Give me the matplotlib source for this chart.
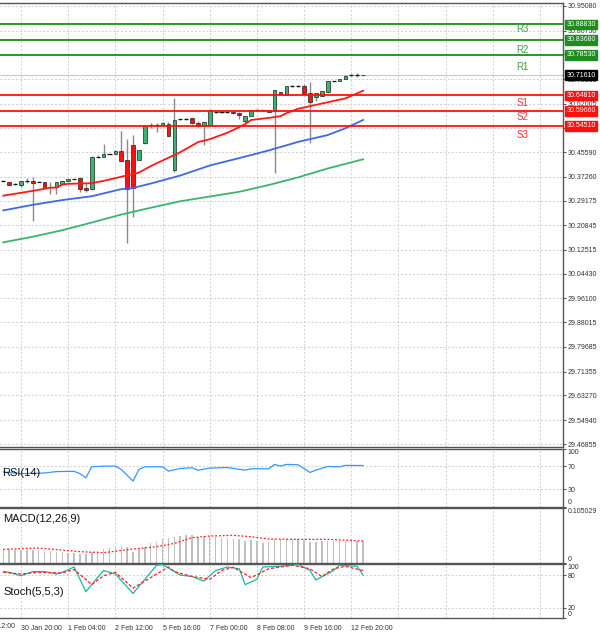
import matplotlib
matplotlib.use('Agg')
import matplotlib.pyplot as plt

plt.rcParams['font.family'] = ['Liberation Sans', 'DejaVu Sans']

# 4H candles
opens = [30.360, 30.355, 30.348, 30.344, 30.359, 30.360, 30.355, 30.355, 30.337, 30.339,
         30.349, 30.358, 30.366, 30.370, 30.334, 30.330, 30.441, 30.441, 30.450, 30.450,
         30.461, 30.430, 30.480, 30.430, 30.486, 30.548, 30.548, 30.548, 30.551, 30.396,
         30.567, 30.568, 30.571, 30.556, 30.546, 30.548, 30.593, 30.593, 30.593, 30.593,
         30.590, 30.563, 30.579, 30.599, 30.599, 30.599, 30.597, 30.659, 30.651, 30.680,
         30.680, 30.680, 30.655, 30.644, 30.646, 30.659, 30.697, 30.698, 30.704, 30.716,
         30.718, 30.718]
highs = [30.362, 30.356, 30.351, 30.358, 30.368, 30.371, 30.357, 30.356, 30.356, 30.356,
         30.358, 30.367, 30.367, 30.371, 30.351, 30.442, 30.446, 30.484, 30.451, 30.462,
         30.529, 30.500, 30.514, 30.465, 30.547, 30.556, 30.556, 30.558, 30.557, 30.641,
         30.568, 30.572, 30.572, 30.562, 30.558, 30.601, 30.596, 30.596, 30.596, 30.594,
         30.593, 30.580, 30.600, 30.602, 30.600, 30.600, 30.667, 30.660, 30.681, 30.683,
         30.683, 30.687, 30.692, 30.658, 30.664, 30.698, 30.698, 30.705, 30.716, 30.719,
         30.723, 30.718]
lows = [30.358, 30.345, 30.345, 30.339, 30.351, 30.223, 30.354, 30.335, 30.315, 30.315,
        30.348, 30.357, 30.365, 30.322, 30.322, 30.329, 30.436, 30.440, 30.449, 30.449,
        30.426, 30.149, 30.237, 30.428, 30.485, 30.537, 30.525, 30.547, 30.510, 30.390,
        30.566, 30.564, 30.553, 30.540, 30.480, 30.547, 30.590, 30.590, 30.590, 30.586,
        30.568, 30.551, 30.578, 30.596, 30.598, 30.592, 30.387, 30.651, 30.650, 30.677,
        30.677, 30.652, 30.488, 30.630, 30.645, 30.658, 30.696, 30.697, 30.703, 30.713,
        30.712, 30.715]
closes = [30.360, 30.346, 30.348, 30.357, 30.360, 30.353, 30.355, 30.336, 30.339, 30.355,
          30.357, 30.366, 30.366, 30.333, 30.328, 30.441, 30.441, 30.449, 30.450, 30.461,
          30.427, 30.332, 30.334, 30.463, 30.546, 30.548, 30.548, 30.556, 30.511, 30.565,
          30.567, 30.568, 30.554, 30.545, 30.557, 30.600, 30.593, 30.593, 30.593, 30.588,
          30.582, 30.579, 30.599, 30.599, 30.599, 30.593, 30.666, 30.652, 30.680, 30.680,
          30.680, 30.653, 30.627, 30.657, 30.663, 30.697, 30.697, 30.704, 30.715, 30.716,
          30.718, 30.716]

# moving averages (sampled at bar index)
ma_fast_idx = [0, 5, 8, 9, 10, 11, 15, 17, 20, 22, 23, 25, 30, 33, 35, 38, 40, 41, 42, 45, 47, 48, 50, 55, 58, 61]
ma_fast = [30.309, 30.325, 30.336, 30.336, 30.346, 30.349, 30.351, 30.359, 30.373, 30.382, 30.387, 30.409, 30.456,
           30.490, 30.500, 30.522, 30.541, 30.551, 30.565, 30.572, 30.578, 30.588, 30.603, 30.625, 30.638, 30.664]
ma_mid_idx = [0, 5, 10, 15, 20, 22, 25, 30, 35, 40, 45, 50, 55, 58, 61]
ma_mid = [30.259, 30.278, 30.294, 30.307, 30.331, 30.335, 30.350, 30.377, 30.411, 30.436, 30.462, 30.491, 30.514,
          30.537, 30.565]
ma_slow_idx = [0, 5, 10, 15, 20, 25, 30, 35, 40, 45, 50, 55, 61]
ma_slow = [30.151, 30.170, 30.192, 30.218, 30.245, 30.268, 30.290, 30.306, 30.322, 30.345, 30.371, 30.401, 30.432]

# pivot levels
level_names = ['R3', 'R2', 'R1', 'S1', 'S2', 'S3']
level_values = [30.88830, 30.83680, 30.78530, 30.64810, 30.59660, 30.54510]
current_price = 30.71610

price_ticks = [30.95080, 30.86750, 30.78665, 30.70335, 30.62005, 30.53920, 30.45590, 30.37260, 30.29175,
               30.20845, 30.12515, 30.04430, 29.96100, 29.88015, 29.79685, 29.71355, 29.63270, 29.54940,
               29.46855]

# indicators
rsi_idx = [0, 1, 3, 7, 9, 12, 13, 14, 15, 17, 19, 20, 22, 23, 24, 27, 28, 30, 32, 33, 35, 38, 41, 42, 45,
           46, 47, 48, 50, 52, 53, 55, 57, 58, 61]
rsi_val = [60, 59, 57, 58, 60.5, 61, 57, 49.7, 68.8, 70, 70, 64.3, 44, 64.3, 68.8, 68.8, 61.3, 65.9, 67.1, 63,
           66.5, 67.6, 63, 65.4, 65.4, 72.9, 70, 72.9, 72.3, 59, 63, 69.4, 68.8, 71.2, 71]

macd_hist = [0.0270, 0.0258, 0.0251, 0.0245, 0.0245, 0.0238, 0.0238, 0.0232, 0.0219, 0.0206,
             0.0200, 0.0193, 0.0193, 0.0167, 0.0161, 0.0206, 0.0225, 0.0258, 0.0283, 0.0309,
             0.0322, 0.0296, 0.0200, 0.0258, 0.0309, 0.0374, 0.0406, 0.0451, 0.0477, 0.0502,
             0.0522, 0.0535, 0.0528, 0.0502, 0.0509, 0.0509, 0.0496, 0.0483, 0.0470, 0.0464,
             0.0451, 0.0425, 0.0432, 0.0419, 0.0387, 0.0400, 0.0458, 0.0464, 0.0464, 0.0458,
             0.0451, 0.0432, 0.0400, 0.0406, 0.0412, 0.0419, 0.0425, 0.0425, 0.0419, 0.0419,
             0.0412, 0.0412]
macd_sig_idx = [0, 6, 13, 17, 22, 26, 29, 32, 35, 39, 42, 45, 49, 55, 61]
macd_sig = [0.0258, 0.0283, 0.0213, 0.0193, 0.0264, 0.0309, 0.0374, 0.0483, 0.0515, 0.0528, 0.0502, 0.0458,
            0.0451, 0.0451, 0.0419]
macd_max = 0.105029

stoch_k_idx = [0, 1, 3, 5, 7, 9, 10, 12, 14, 17, 19, 22, 24, 26, 27, 30, 32, 34, 36, 38, 40, 41, 43, 44, 47,
               50, 52, 53, 56, 57, 60, 61]
stoch_k = [86.5, 85.2, 78.7, 86.5, 86.5, 82, 85.2, 95, 49.3, 88.5, 82, 46, 72.2, 98.3, 99.6, 80, 77.4, 68.9,
           88.5, 95, 91.7, 62.4, 72.2, 95, 96.3, 99.6, 88.5, 70.9, 88.5, 98.3, 96.3, 80]
stoch_d_idx = [0, 3, 6, 10, 12, 15, 17, 19, 22, 24, 28, 29, 32, 35, 37, 39, 42, 45, 49, 52, 54, 56, 58, 61]
stoch_d = [85.2, 82, 85.2, 83.9, 90.4, 62.4, 78.7, 85.2, 55.9, 68.9, 95, 86.5, 77.4, 72.2, 88.5, 94.4, 75.4,
           91.7, 98.3, 91.7, 77.4, 91.7, 96.3, 88.5]

time_labels = ['30 Jan 20:00', '1 Feb 04:00', '2 Feb 12:00', '5 Feb 16:00', '7 Feb 00:00',
               '8 Feb 08:00', '9 Feb 16:00', '12 Feb 20:00']
time_label_idx = [3, 11, 19, 27, 35, 43, 51, 59]

# layout (pixels)
W, H = 600, 633
fig = plt.figure(figsize=(6, 6.33), dpi=100)


def panel(top, bottom):
    return [0, (H - bottom) / H, 563 / W, (bottom - top) / H]


ax = fig.add_axes(panel(3, 447))
ax_rsi = fig.add_axes(panel(448.8, 506.5), sharex=ax)
ax_macd = fig.add_axes(panel(508.3, 562.7), sharex=ax)
ax_st = fig.add_axes(panel(564.3, 618.3), sharex=ax)
axes = [ax, ax_rsi, ax_macd, ax_st]

grid_kw = dict(color='#cfcfcf', lw=0.7, ls=(0, (2, 2)), zorder=0)
vgrid = list(range(3, 95, 8))
for a in axes:
    a.set_facecolor('white')
    for s in ['left']:
        a.spines[s].set_visible(False)
    for s in ['right', 'top', 'bottom']:
        a.spines[s].set_color('#555555')
        a.spines[s].set_linewidth(1.0)
    a.yaxis.tick_right()
    a.tick_params(axis='y', labelsize=5, colors='#333333', length=2, pad=1.5, width=0.6)
    a.tick_params(axis='x', length=0, labelbottom=False)
    for g in vgrid:
        a.axvline(g, **grid_kw)
ax.set_xlim(-0.56, 94.9)

# main price panel
ax.set_ylim(29.4584, 30.9609)
ax.set_yticks(price_ticks)
ax.set_yticklabels(['%.5f' % p for p in price_ticks])
for p in price_ticks:
    ax.axhline(p, **grid_kw)

for i in range(len(opens)):
    o, h, l, c = opens[i], highs[i], lows[i], closes[i]
    ax.vlines(i, l, h, color='#8a8a8a', lw=1.0, zorder=2)
    if abs(c - o) < 0.0015:
        ax.hlines(o, i - 0.35, i + 0.35, color='#111111', lw=0.9, zorder=3)
    else:
        col = '#3cb371' if c > o else '#ff1010'
        ax.bar(i, abs(c - o), bottom=min(o, c), width=0.62, color=col,
               edgecolor='#222222', linewidth=0.5, zorder=3)

ax.plot(ma_slow_idx, ma_slow, color='#3cb371', lw=1.3, zorder=4)
ax.plot(ma_mid_idx, ma_mid, color='#4169e1', lw=1.3, zorder=4)
ax.plot(ma_fast_idx, ma_fast, color='#ff1a1a', lw=1.3, zorder=4)

ax.axhline(current_price, color='#c8c8c8', lw=0.8, zorder=1)

label_offsets = [-4.5, -10.5, -12, -7.5, -6.5, -9.5]
for name, val, off in zip(level_names, level_values, label_offsets):
    col = '#1e8c1e' if name.startswith('R') else '#ff1010'
    tcol = '#3f9f3f' if name.startswith('R') else '#ff3030'
    ax.axhline(val, color=col, lw=1.3, zorder=5)
    ax.annotate(name, xy=(88, val), xytext=(0, off * 0.72), textcoords='offset points',
                ha='center', va='center', fontsize=7, color=tcol, zorder=6)
    ax.annotate('%.5f' % val, xy=(1.0, val), xycoords=('axes fraction', 'data'),
                xytext=(2.5, 0), textcoords='offset points', ha='left', va='center',
                fontsize=5, color='white', annotation_clip=False, zorder=10,
                bbox=dict(boxstyle='square,pad=0.2', fc=col, ec=col))
ax.annotate('%.5f' % current_price, xy=(1.0, current_price), xycoords=('axes fraction', 'data'),
            xytext=(2.5, 0), textcoords='offset points', ha='left', va='center',
            fontsize=5, color='white', annotation_clip=False, zorder=10,
            bbox=dict(boxstyle='square,pad=0.2', fc='black', ec='black'))

# RSI
ax_rsi.set_ylim(0, 100)
ax_rsi.plot(rsi_idx, rsi_val, color='#3399ff', lw=0.9)
for g in [70, 30]:
    ax_rsi.axhline(g, **grid_kw)
ax_rsi.set_yticks([0, 30, 70, 100])
ax_rsi.text(0.004, 0.58, 'RSI(14)', transform=ax_rsi.transAxes, fontsize=8, color='#111111',
            va='center', ha='left')

# MACD
ax_macd.set_ylim(0, macd_max)
ax_macd.bar(range(len(macd_hist)), macd_hist, width=0.25, color='#c0c0c0', zorder=2)
ax_macd.plot(macd_sig_idx, macd_sig, color='#ff2020', lw=0.9, ls=(0, (1.5, 1.5)), zorder=3)
ax_macd.set_yticks([0, macd_max])
ax_macd.set_yticklabels(['0', '0.105029'])
ax_macd.text(0.006, 0.8, 'MACD(12,26,9)', transform=ax_macd.transAxes, fontsize=8, color='#111111',
             va='center', ha='left')

# Stochastic
ax_st.set_ylim(0, 100)
ax_st.plot(stoch_k_idx, stoch_k, color='#20b2aa', lw=0.9, zorder=3)
ax_st.plot(stoch_d_idx, stoch_d, color='#ff2020', lw=0.9, ls=(0, (2.5, 1.5)), zorder=3)
for g in [80, 20]:
    ax_st.axhline(g, **grid_kw)
ax_st.set_yticks([0, 20, 80, 100])
ax_st.text(0.006, 0.48, 'Stoch(5,5,3)', transform=ax_st.transAxes, fontsize=8, color='#111111',
           va='center', ha='left')

for a in [ax_rsi, ax_macd, ax_st]:
    labels = a.get_yticklabels()
    labels[0].set_va('bottom')
    labels[-1].set_va('top')

ax_st.set_xticks(time_label_idx)
ax_st.set_xticklabels(time_labels)
ax_st.tick_params(axis='x', labelbottom=True, labelsize=5, colors='#333333', pad=4.5)
for t in ax_st.get_xticklabels():
    t.set_ha('left')
ax_st.text(-5, -0.16, '29 Jan 12:00', transform=ax_st.get_xaxis_transform(), fontsize=5,
           color='#333333', ha='left', va='center', clip_on=False)

fig.savefig('out.png', dpi=100)
